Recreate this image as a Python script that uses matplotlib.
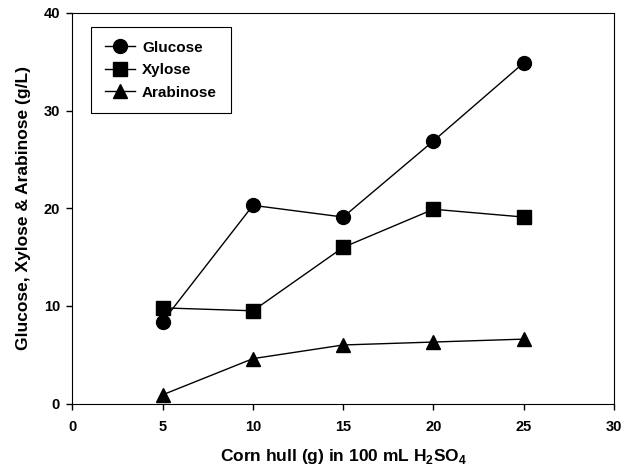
import matplotlib
matplotlib.use('Agg')
import matplotlib.pyplot as plt

plt.rcParams['font.family'] = ['Liberation Sans', 'DejaVu Sans']
plt.rcParams['font.weight'] = 'bold'
plt.rcParams['mathtext.fontset'] = 'custom'
plt.rcParams['mathtext.bf'] = 'Liberation Sans:bold'
plt.rcParams['mathtext.rm'] = 'Liberation Sans:bold'

corn_hull = [5, 10, 15, 20, 25]
glucose = [8.4, 20.3, 19.1, 26.9, 34.9]
xylose = [9.8, 9.5, 16.0, 19.9, 19.1]
arabinose = [0.9, 4.6, 6.0, 6.3, 6.6]

x_ticks = [0, 5, 10, 15, 20, 25, 30]
y_ticks = [0, 10, 20, 30, 40]

fig = plt.figure(figsize=(6.35, 4.72), dpi=100)
ax = fig.add_axes([0.114, 0.145, 0.853, 0.8275])

ax.plot(corn_hull, glucose, 'o-k', ms=10, lw=1, label='Glucose')
ax.plot(corn_hull, xylose, 's-k', ms=9.5, lw=1, label='Xylose')
ax.plot(corn_hull, arabinose, '^-k', ms=10.5, lw=1, label='Arabinose')

ax.set_xlim(0, 30)
ax.set_ylim(0, 40)
ax.set_xticks(x_ticks)
ax.set_yticks(y_ticks)
ax.tick_params(direction='out', length=4, width=1, labelsize=10.5)
ax.tick_params(axis='x', pad=8)
ax.tick_params(axis='y', pad=5)
for lbl in ax.get_xticklabels() + ax.get_yticklabels():
    lbl.set_fontweight('bold')

ax.set_xlabel('Corn hull (g) in 100 mL H$_{2}$SO$_{4}$', fontsize=12.5, fontweight='bold', labelpad=9)
ax.set_ylabel('Glucose, Xylose & Arabinose (g/L)', fontsize=12.5, fontweight='bold', labelpad=9)

leg = ax.legend(loc='upper left', bbox_to_anchor=(0.034, 0.964), fancybox=False,
                edgecolor='black', framealpha=1, fontsize=11, handlelength=2.0,
                borderpad=0.9, labelspacing=0.55, borderaxespad=0, handletextpad=0.45)
leg.get_frame().set_linewidth(0.8)

fig.savefig('out.png', dpi=100)
